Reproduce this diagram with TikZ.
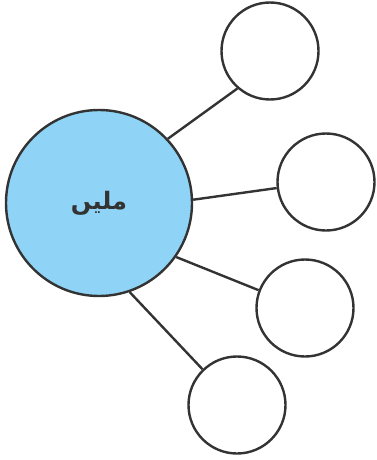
\documentclass[tikz,border=0pt]{standalone}
\usepackage{fontspec}
\newfontfamily\arabicfont[Script=Arabic]{DejaVu Sans}
\TeXXeTstate=1
\definecolor{hubblue}{HTML}{8FD4F6}
\definecolor{edgegray}{HTML}{333333}
\tikzset{
  hub/.style={circle, minimum size=186pt, inner sep=0pt, draw=edgegray, line width=2.4pt, fill=hubblue},
  leaf/.style={circle, minimum size=97pt, inner sep=0pt, draw=edgegray, line width=2.4pt, fill=white},
  spoke/.style={draw=edgegray, line width=2.4pt}
}
\begin{document}
\begin{tikzpicture}[x=1pt, y=-1pt]
\useasboundingbox (0,0) rectangle (376,460);
\node[hub, text=edgegray] (center) at (99,203) {\fontsize{24}{30}\selectfont\arabicfont\bfseries\beginR ملیں\endR};
\node[leaf] (l1) at (270,51) {};
\node[leaf] (l2) at (326,182) {};
\node[leaf] (l3) at (305,308) {};
\node[leaf] (l4) at (237,405) {};
% spokes leave the hub at fixed angles
\path[spoke] (center.43) -- (l1.229);
\path[spoke] (center.2) -- (l2.187);
\path[spoke] (center.-35) -- (l3.159);
\path[spoke] (center.-71) -- (l4.134);
\end{tikzpicture}
\end{document}
